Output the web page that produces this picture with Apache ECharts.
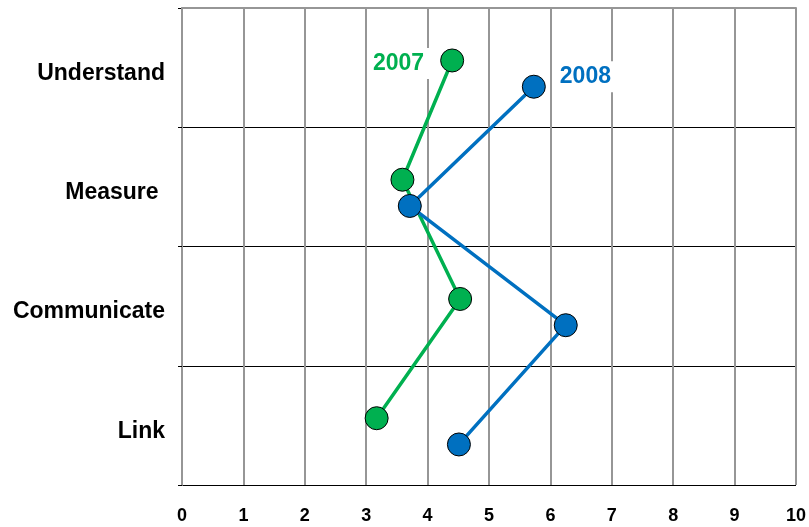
<!DOCTYPE html>
<html>
<head>
<meta charset="utf-8">
<script src="https://cdn.jsdelivr.net/npm/echarts@6/dist/echarts.min.js"></script>
<style>
  html, body { margin: 0; padding: 0; background: #fff; }
  #main { width: 809px; height: 527px; }
</style>
</head>
<body>
<div id="main"></div>
<script>
// categories, top to bottom
var categories = ['Understand', 'Measure ', 'Communicate', 'Link'];
var xTicks = [0, 1, 2, 3, 4, 5, 6, 7, 8, 9, 10];
var values2007 = [4.40, 3.59, 4.53, 3.17];
var values2008 = [5.73, 3.71, 6.25, 4.51];
// where inside each band the point sits (0 = top of band, 1 = bottom)
var offset2007 = 0.44;
var offset2008 = 0.66;

var green = '#00B050';
var blue = '#0070C0';

function toPoints(vals, off) {
    var pts = [];
    for (var i = 0; i < vals.length; i++) {
        pts.push([vals[i], i + off]);
    }
    return pts;
}

var myChart = echarts.init(document.getElementById('main'));

var option = {
    animation: false,
    backgroundColor: '#fff',
    grid: { left: 182, right: 9, top: 8, bottom: 42 },
    xAxis: {
        type: 'value',
        min: xTicks[0],
        max: xTicks[xTicks.length - 1],
        interval: 1,
        axisLine: { show: true, lineStyle: { color: '#969696', width: 2 } },
        axisTick: { show: true, length: 5, lineStyle: { color: '#969696', width: 2 } },
        splitLine: { show: true, lineStyle: { color: '#969696', width: 2 } },
        axisLabel: {
            margin: 22,
            color: '#000',
            fontFamily: 'Liberation Sans, Arial',
            fontWeight: 'bold',
            fontSize: 18
        }
    },
    yAxis: [{
        type: 'value',
        min: 0,
        max: categories.length,
        interval: 1,
        inverse: true,
        axisLine: { show: true, lineStyle: { color: '#969696', width: 2 } },
        axisTick: { show: true, length: 4, lineStyle: { color: '#000', width: 1 } },
        splitLine: { show: true, lineStyle: { color: '#000', width: 1 } },
        axisLabel: { show: false }
    }, {
        type: 'category',
        data: categories,
        inverse: true,
        position: 'left',
        axisLine: { show: false },
        axisTick: { show: false },
        splitLine: { show: false },
        axisLabel: {
            margin: 17,
            formatter: '{a|{value}}',
            rich: {
                a: {
                    color: '#000',
                    fontFamily: 'Liberation Sans, Arial',
                    fontWeight: 'bold',
                    fontSize: 23,
                    padding: [12, 0, 0, 0]
                }
            }
        }
    }],
    series: [{
        name: '2007',
        type: 'line',
        data: toPoints(values2007, offset2007),
        symbol: 'circle',
        symbolSize: 23,
        lineStyle: { color: green, width: 3.5 },
        itemStyle: { color: green, borderColor: '#000', borderWidth: 1 },
        label: { show: false },
        markPoint: {
            symbol: 'rect',
            symbolSize: 0,
            data: [{ coord: [values2007[0], offset2007] }],
            label: {
                show: true,
                formatter: '2007',
                position: 'left',
                distance: 0,
                offset: [-22, 3],
                color: green,
                fontFamily: 'Liberation Sans, Arial',
                fontWeight: 'bold',
                fontSize: 23,
                backgroundColor: '#fff',
                padding: [4, 6]
            }
        }
    }, {
        name: '2008',
        type: 'line',
        data: toPoints(values2008, offset2008),
        symbol: 'circle',
        symbolSize: 23,
        lineStyle: { color: blue, width: 3.5 },
        itemStyle: { color: blue, borderColor: '#000', borderWidth: 1 },
        label: { show: false },
        markPoint: {
            symbol: 'rect',
            symbolSize: 0,
            data: [{ coord: [values2008[0], offset2008] }],
            label: {
                show: true,
                formatter: '2008',
                position: 'right',
                distance: 0,
                offset: [20, -10],
                color: blue,
                fontFamily: 'Liberation Sans, Arial',
                fontWeight: 'bold',
                fontSize: 23,
                backgroundColor: '#fff',
                padding: [4, 6]
            }
        }
    }]
};

myChart.setOption(option);
</script>
</body>
</html>
